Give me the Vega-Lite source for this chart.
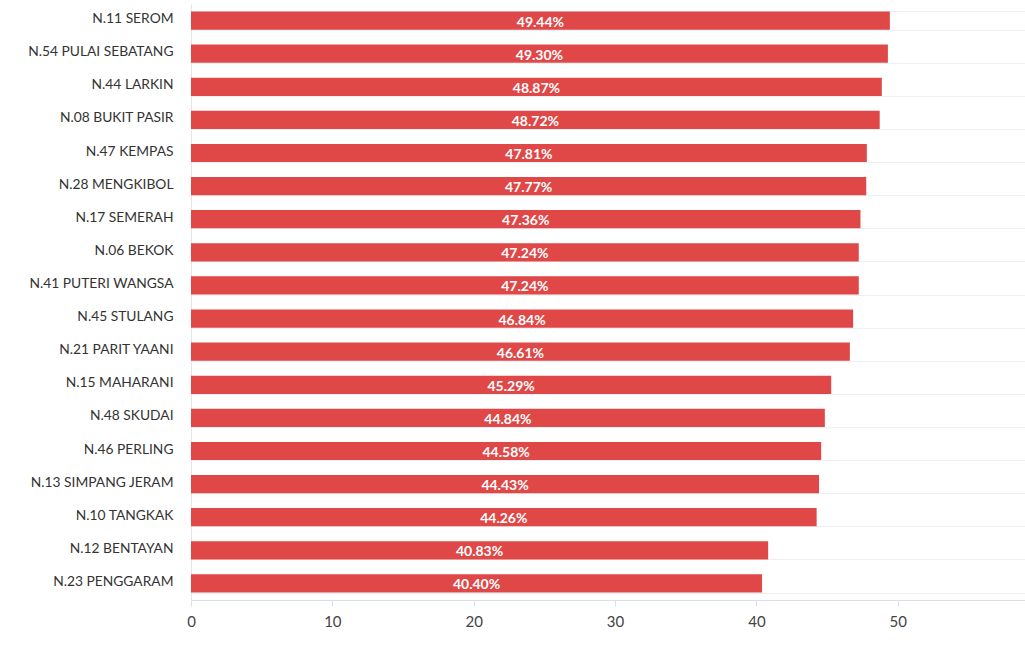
{
  "$schema": "https://vega.github.io/schema/vega-lite/v6.json",
  "width": 834,
  "height": 596,
  "autosize": {"type": "none"},
  "padding": {"left": 191, "top": 4, "right": 0, "bottom": 47},
  "background": "white",
  "config": {
    "view": {"stroke": null},
    "font": "Lato"
  },
  "data": {
    "values": [
      {"kawasan": "N.11 SEROM", "peratus": 49.44, "label": "49.44%"},
      {"kawasan": "N.54 PULAI SEBATANG", "peratus": 49.30, "label": "49.30%"},
      {"kawasan": "N.44 LARKIN", "peratus": 48.87, "label": "48.87%"},
      {"kawasan": "N.08 BUKIT PASIR", "peratus": 48.72, "label": "48.72%"},
      {"kawasan": "N.47 KEMPAS", "peratus": 47.81, "label": "47.81%"},
      {"kawasan": "N.28 MENGKIBOL", "peratus": 47.77, "label": "47.77%"},
      {"kawasan": "N.17 SEMERAH", "peratus": 47.36, "label": "47.36%"},
      {"kawasan": "N.06 BEKOK", "peratus": 47.24, "label": "47.24%"},
      {"kawasan": "N.41 PUTERI WANGSA", "peratus": 47.24, "label": "47.24%"},
      {"kawasan": "N.45 STULANG", "peratus": 46.84, "label": "46.84%"},
      {"kawasan": "N.21 PARIT YAANI", "peratus": 46.61, "label": "46.61%"},
      {"kawasan": "N.15 MAHARANI", "peratus": 45.29, "label": "45.29%"},
      {"kawasan": "N.48 SKUDAI", "peratus": 44.84, "label": "44.84%"},
      {"kawasan": "N.46 PERLING", "peratus": 44.58, "label": "44.58%"},
      {"kawasan": "N.13 SIMPANG JERAM", "peratus": 44.43, "label": "44.43%"},
      {"kawasan": "N.10 TANGKAK", "peratus": 44.26, "label": "44.26%"},
      {"kawasan": "N.12 BENTAYAN", "peratus": 40.83, "label": "40.83%"},
      {"kawasan": "N.23 PENGGARAM", "peratus": 40.40, "label": "40.40%"}
    ]
  },
  "encoding": {
    "y": {
      "field": "kawasan",
      "type": "nominal",
      "sort": null,
      "title": null,
      "scale": {"paddingInner": 0.45, "paddingOuter": 0.225},
      "axis": {
        "ticks": false,
        "labelPadding": 18,
        "labelOffset": -2,
        "labelFontSize": 13.8,
        "labelColor": "#333333",
        "labelFont": "Lato",
        "domain": true,
        "domainColor": "#e2e4e8",
        "grid": true,
        "tickBand": "extent",
        "gridColor": "#eceff3",
        "gridWidth": 1
      }
    }
  },
  "layer": [
    {
      "mark": {"type": "bar", "color": "#e04747"},
      "encoding": {
        "x": {
          "field": "peratus",
          "type": "quantitative",
          "title": null,
          "scale": {"domain": [0, 59], "nice": false},
          "axis": {
            "values": [0, 10, 20, 30, 40, 50],
            "grid": false,
            "labelFlush": false,
            "domainColor": "#dcdfe3",
            "tickColor": "#dcdfe3",
            "tickSize": 6,
            "labelPadding": 8,
            "labelFontSize": 15,
            "labelColor": "#444444",
            "labelFont": "Lato"
          }
        }
      }
    },
    {
      "mark": {"type": "text", "color": "white", "fontWeight": "bold", "fontSize": 14, "baseline": "middle", "dy": 2, "font": "Lato"},
      "encoding": {
        "x": {"field": "peratus", "type": "quantitative", "stack": "zero", "bandPosition": 0.5},
        "text": {"field": "label", "type": "nominal"}
      }
    }
  ]
}
